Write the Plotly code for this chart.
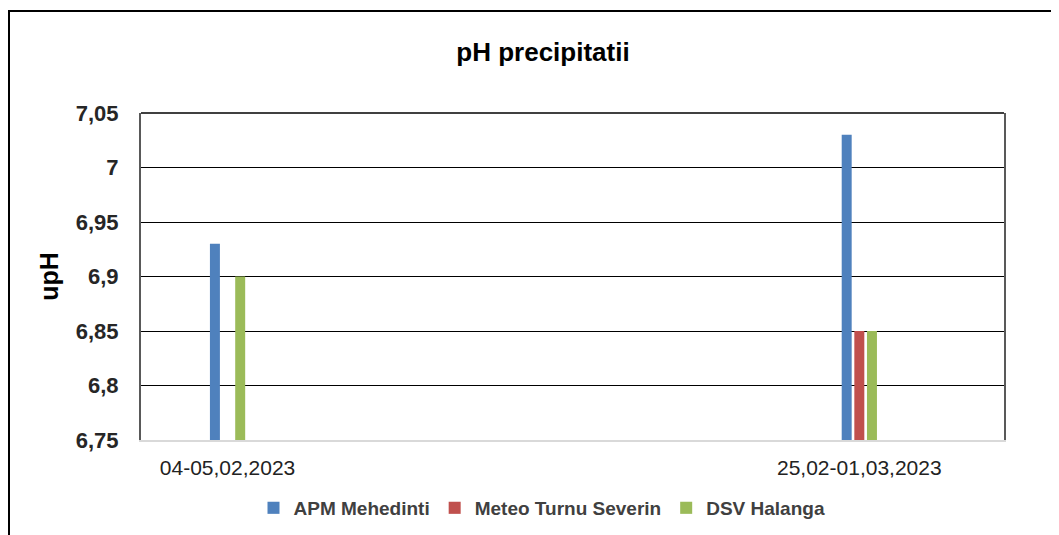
import plotly.graph_objects as go

categories = ["04-05,02,2023", "25,02-01,03,2023"]
apm_mehedinti = [6.93, 7.03]
meteo_turnu_severin = [None, 6.85]
dsv_halanga = [6.90, 6.85]

y_tick_vals = [6.75, 6.80, 6.85, 6.90, 6.95, 7.00, 7.05]
y_tick_text = ["6,75", "6,8", "6,85", "6,9", "6,95", "7", "7,05"]

series = [
    ("APM Mehedinti", apm_mehedinti, "#4F81BD"),
    ("Meteo Turnu Severin", meteo_turnu_severin, "#C0504D"),
    ("DSV Halanga", dsv_halanga, "#9BBB59"),
]

W, H = 1059, 535
OFF = 8  # page body margin offset
ml, mt = 141 - OFF, 113 - OFF
mr = W - (1004 - OFF)
mb = H - (440 - OFF)
pw, ph = W - ml - mr, H - mt - mb

fig = go.Figure()
for name, vals, color in series:
    fig.add_trace(go.Bar(
        x=categories, y=[None if v is None else v - 6.75 for v in vals],
        base=6.75, name=name, marker=dict(color=color, line=dict(width=0)),
    ))

def px_x(p):
    return (p - OFF - ml) / pw

def px_y(p):
    return (H - mb - (p - OFF)) / ph

fig.update_layout(
    width=W, height=H,
    margin=dict(l=ml, r=mr, t=mt, b=mb, autoexpand=False),
    paper_bgcolor="white", plot_bgcolor="white",
    barmode="group", bargap=0.94, bargroupgap=0.21,
    font=dict(family="Liberation Sans, Arial, sans-serif", color="#262626"),
    title=dict(text="<b>pH precipitatii</b>", x=(543 - OFF) / W, xref="container", xanchor="center",
               y=1 - (52 - OFF) / H, yref="container", yanchor="middle",
               font=dict(size=26, color="#000000")),
    legend=dict(orientation="h", x=(542 - OFF) / W, xref="container", xanchor="center",
                y=1 - (508 - OFF) / H, yref="container", yanchor="middle",
                font=dict(size=19, color="#404040", weight="bold"),
                itemwidth=30, traceorder="normal"),
    xaxis=dict(type="category", range=[-0.137, 1.229], showgrid=False,
               showline=True, linecolor="#d9d9d9", linewidth=2,
               ticks="", ticklabelstandoff=8,
               tickfont=dict(size=21, color="#222222")),
    yaxis=dict(range=[6.75, 7.05], tickvals=y_tick_vals, ticktext=y_tick_text,
               showgrid=True, gridcolor="#000000", gridwidth=1,
               showline=True, linecolor="#595959", linewidth=2, mirror=True,
               zeroline=False, ticks="", ticklabelstandoff=16,
               tickfont=dict(size=22, color="#262626", weight="bold"),
               title=dict(text="<b>upH</b>", font=dict(size=25, color="#000000"), standoff=10)),
    shapes=[
        dict(type="rect", xref="paper", yref="paper",
             x0=px_x(9), x1=px_x(1075), y0=px_y(550), y1=px_y(11),
             line=dict(color="#000000", width=2), fillcolor="rgba(0,0,0,0)", layer="above"),
        dict(type="line", xref="paper", yref="paper", x0=0, x1=1, y0=1, y1=1,
             line=dict(color="#404040", width=2)),
    ],
)

fig.write_html("out.html")
